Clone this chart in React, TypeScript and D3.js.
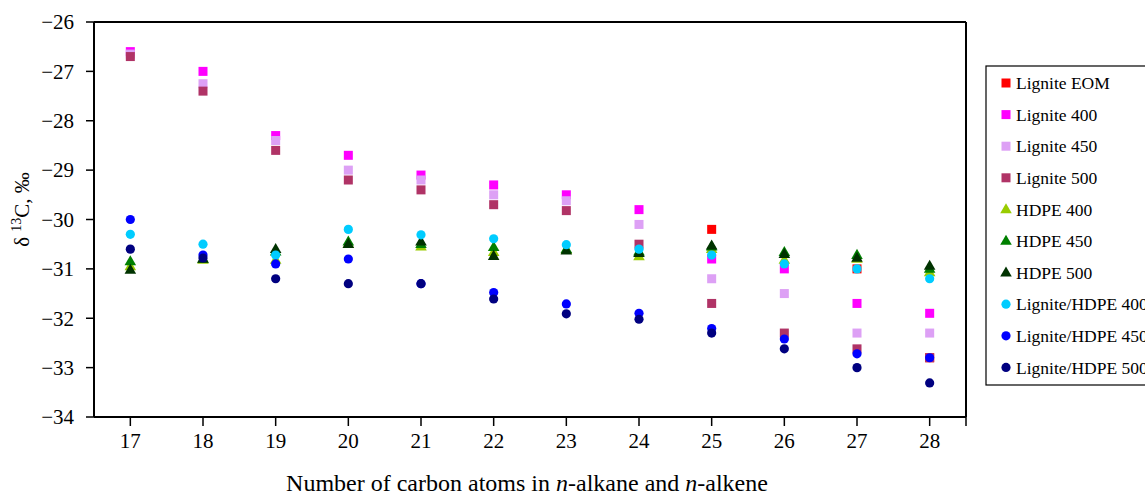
import React from "react";
import * as d3 from "d3";

const categories = [17, 18, 19, 20, 21, 22, 23, 24, 25, 26, 27, 28];
const yTicks = [-26, -27, -28, -29, -30, -31, -32, -33, -34];

const ligniteEOM = [null, null, null, null, null, null, null, null, -30.2, null, -31.0, -32.8];
const lignite400 = [-26.6, -27.0, -28.3, -28.7, -29.1, -29.3, -29.5, -29.8, -30.8, -31.0, -31.7, -31.9];
const lignite450 = [-26.65, -27.25, -28.4, -29.0, -29.2, -29.5, -29.62, -30.1, -31.2, -31.5, -32.3, -32.3];
const lignite500 = [-26.7, -27.4, -28.6, -29.2, -29.4, -29.7, -29.82, -30.5, -31.7, -32.3, -32.62, -32.8];
const hdpe400 = [-30.95, -30.82, -30.82, -30.5, -30.55, -30.66, -30.62, -30.75, -30.6, -30.82, -30.8, -31.07];
const hdpe450 = [-30.85, -30.8, -30.65, -30.45, -30.5, -30.56, -30.6, -30.65, -30.55, -30.66, -30.72, -31.0];
const hdpe500 = [-31.02, -30.8, -30.6, -30.5, -30.45, -30.74, -30.63, -30.68, -30.53, -30.7, -30.78, -30.94];
const lh400 = [-30.3, -30.5, -30.72, -30.2, -30.31, -30.39, -30.51, -30.6, -30.72, -30.9, -31.0, -31.2];
const lh450 = [-30.0, -30.72, -30.9, -30.8, -31.3, -31.48, -31.71, -31.9, -32.21, -32.42, -32.72, -32.8];
const lh500 = [-30.6, -30.78, -31.2, -31.3, -31.3, -31.61, -31.91, -32.02, -32.3, -32.62, -33.0, -33.31];

const seriesNames = [
  "Lignite EOM",
  "Lignite 400",
  "Lignite 450",
  "Lignite 500",
  "HDPE 400",
  "HDPE 450",
  "HDPE 500",
  "Lignite/HDPE 400",
  "Lignite/HDPE 450",
  "Lignite/HDPE 500",
];
const seriesValues = [ligniteEOM, lignite400, lignite450, lignite500, hdpe400, hdpe450, hdpe500, lh400, lh450, lh500];
const seriesColors = ["#FF0000", "#FF00FF", "#DDA0F5", "#B03366", "#99CC00", "#008000", "#003300", "#00CCFF", "#0000FF", "#000080"];
const seriesShapes = ["square", "square", "square", "square", "triangle", "triangle", "triangle", "circle", "circle", "circle"];

const W = 1145;
const H = 495;
const plot = { left: 94, right: 966, top: 22, bottom: 417 };
const FONT = "'Liberation Serif', 'Times New Roman', serif";

function Marker({ shape, x, y, color }: { shape: string; x: number; y: number; color: string }) {
  if (shape === "square") {
    return <rect x={x - 4.5} y={y - 4.5} width={9} height={9} fill={color} />;
  }
  if (shape === "triangle") {
    const path = d3.symbol().type(d3.symbolTriangle).size(58)();
    return <path d={path || ""} transform={`translate(${x},${y + 0.5})`} fill={color} />;
  }
  return <circle cx={x} cy={y} r={4.6} fill={color} />;
}

export default function App() {
  const x = d3.scaleLinear().domain([16.5, 28.5]).range([plot.left, plot.right]);
  const y = d3.scaleLinear().domain([-34, -26]).range([plot.bottom, plot.top]);
  const xTickVals = [...categories, 28.5];
  const legendX = 986;
  const legendTop = 66;
  const legendStep = 31.6;

  return (
    <svg
      width={W}
      height={H}
      style={{ position: "absolute", left: 0, top: 0, background: "#fff" }}
      fontFamily={FONT}
    >
      <rect x={0} y={0} width={W} height={H} fill="#fff" />
      {/* frame */}
      <line x1={plot.left} x2={plot.right} y1={plot.top} y2={plot.top} stroke="#000" strokeWidth={2} />
      <line x1={plot.right} x2={plot.right} y1={plot.top} y2={plot.bottom} stroke="#000" strokeWidth={2} />
      <line x1={plot.left} x2={plot.left} y1={plot.top} y2={plot.bottom} stroke="#000" strokeWidth={2} />
      <line x1={plot.left} x2={plot.right} y1={plot.bottom} y2={plot.bottom} stroke="#000" strokeWidth={2} />

      {/* y axis ticks */}
      {yTicks.map((t) => (
        <g key={t}>
          <line x1={plot.left - 8} x2={plot.left} y1={y(t)} y2={y(t)} stroke="#000" strokeWidth={1.5} />
          <text x={plot.left - 20} y={y(t)} dy="0.35em" textAnchor="end" fontSize={21} fill="#000">
            {"\u2212" + Math.abs(t)}
          </text>
        </g>
      ))}

      {/* x axis ticks */}
      {xTickVals.map((t) => (
        <line key={t} x1={x(t)} x2={x(t)} y1={plot.bottom} y2={plot.bottom + 9} stroke="#000" strokeWidth={1.5} />
      ))}
      {categories.map((c) => (
        <text key={c} x={x(c)} y={448} textAnchor="middle" fontSize={21} fill="#000">
          {c}
        </text>
      ))}

      {/* axis titles */}
      <text x={527} y={491} textAnchor="middle" fontSize={24} fill="#000">
        Number of carbon atoms in <tspan fontStyle="italic">n</tspan>-alkane and{" "}
        <tspan fontStyle="italic">n</tspan>-alkene
      </text>
      <text transform={`translate(29,${(plot.top + plot.bottom) / 2 - 10}) rotate(-90)`} textAnchor="middle" fontSize={21} fill="#000">
        δ <tspan fontSize={14} dy={-8}>13</tspan>
        <tspan dy={8}>C, ‰</tspan>
      </text>

      {/* data */}
      {seriesValues.map((vals, si) => (
        <g key={seriesNames[si]}>
          {vals.map((v, i) =>
            v == null ? null : (
              <Marker key={i} shape={seriesShapes[si]} x={x(categories[i])} y={y(v)} color={seriesColors[si]} />
            )
          )}
        </g>
      ))}

      {/* legend */}
      <rect x={legendX} y={legendTop} width={200} height={319} fill="#fff" stroke="#000" strokeWidth={1.2} />
      {seriesNames.map((n, i) => {
        const cy = 83 + i * legendStep;
        return (
          <g key={n}>
            <Marker shape={seriesShapes[i]} x={1006} y={cy} color={seriesColors[i]} />
            <text x={1016} y={cy} dy="0.35em" fontSize={17.5} fill="#000">
              {n}
            </text>
          </g>
        );
      })}
    </svg>
  );
}
